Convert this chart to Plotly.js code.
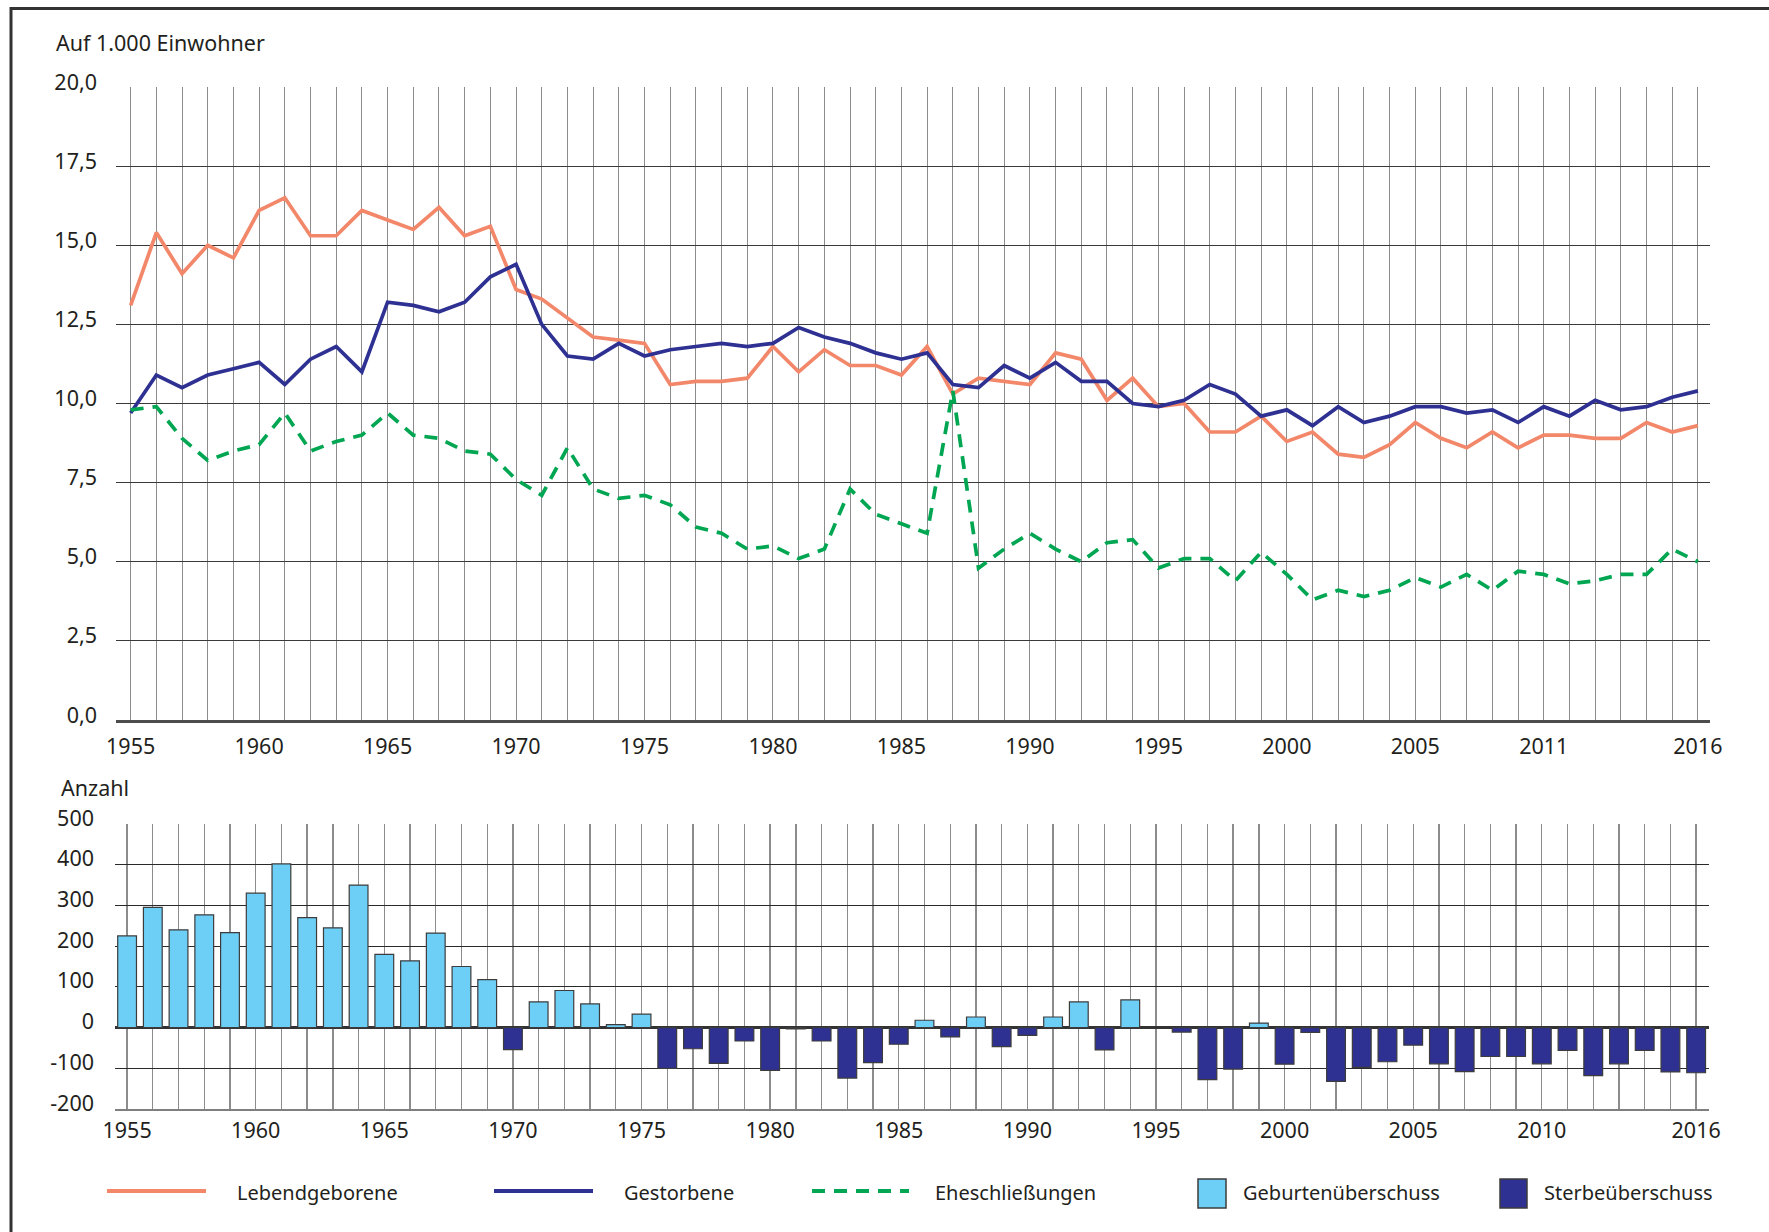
<!DOCTYPE html>
<html>
<head>
<meta charset="utf-8">
<script src="https://cdn.plot.ly/plotly-3.0.1.min.js"></script>
<style>html,body{margin:0;padding:0;background:#fff;}#chart{width:1769px;height:1232px;}</style>
</head>
<body>
<div id="chart"></div>
<script>
// ---- Data ----
const years = [1955,1956,1957,1958,1959,1960,1961,1962,1963,1964,
  1965,1966,1967,1968,1969,1970,1971,1972,1973,1974,
  1975,1976,1977,1978,1979,1980,1981,1982,1983,1984,
  1985,1986,1987,1988,1989,1990,1991,1992,1993,1994,
  1995,1996,1997,1998,1999,2000,2001,2002,2003,2004,
  2005,2006,2007,2008,2009,2010,2011,2012,2013,2014,
  2015,2016];

const lebendgeborene = [13.1,15.4,14.1,15.0,14.6,16.1,16.5,15.3,15.3,16.1,
  15.8,15.5,16.2,15.3,15.6,13.6,13.3,12.7,12.1,12.0,
  11.9,10.6,10.7,10.7,10.8,11.8,11.0,11.7,11.2,11.2,
  10.9,11.8,10.3,10.8,10.7,10.6,11.6,11.4,10.1,10.8,
  9.9,10.0,9.1,9.1,9.6,8.8,9.1,8.4,8.3,8.7,
  9.4,8.9,8.6,9.1,8.6,9.0,9.0,8.9,8.9,9.4,
  9.1,9.3];

const gestorbene = [9.7,10.9,10.5,10.9,11.1,11.3,10.6,11.4,11.8,11.0,
  13.2,13.1,12.9,13.2,14.0,14.4,12.5,11.5,11.4,11.9,
  11.5,11.7,11.8,11.9,11.8,11.9,12.4,12.1,11.9,11.6,
  11.4,11.6,10.6,10.5,11.2,10.8,11.3,10.7,10.7,10.0,
  9.9,10.1,10.6,10.3,9.6,9.8,9.3,9.9,9.4,9.6,
  9.9,9.9,9.7,9.8,9.4,9.9,9.6,10.1,9.8,9.9,
  10.2,10.4];

const eheschliessungen = [9.8,9.9,8.9,8.2,8.5,8.7,9.7,8.5,8.8,9.0,
  9.7,9.0,8.9,8.5,8.4,7.6,7.1,8.6,7.3,7.0,
  7.1,6.8,6.1,5.9,5.4,5.5,5.1,5.4,7.3,6.5,
  6.2,5.9,10.4,4.8,5.4,5.9,5.4,5.0,5.6,5.7,
  4.8,5.1,5.1,4.4,5.3,4.6,3.8,4.1,3.9,4.1,
  4.5,4.2,4.6,4.1,4.7,4.6,4.3,4.4,4.6,4.6,
  5.4,5.0];

// natural balance (Anzahl): positive = Geburtenüberschuss, negative = Sterbeüberschuss
const saldo = [225,295,240,277,233,330,402,270,245,350,
  180,164,232,150,118,-54,63,91,58,7,
  33,-100,-52,-88,-33,-105,-3,-33,-124,-86,
  -41,18,-23,26,-47,-19,26,63,-55,68,
  0,-11,-128,-102,11,-90,-12,-132,-98,-84,
  -43,-89,-108,-71,-71,-89,-56,-118,-89,-56,
  -109,-111];

const topTickVals = [1955,1960,1965,1970,1975,1980,1985,1990,1995,2000,2005,2010,2016];
const topTickText = ['1955','1960','1965','1970','1975','1980','1985','1990','1995','2000','2005','2011','2016'];
const bottomTickText = ['1955','1960','1965','1970','1975','1980','1985','1990','1995','2000','2005','2010','2016'];
const topYTicks = [0,2.5,5,7.5,10,12.5,15,17.5,20];
const topYText = ['0,0','2,5','5,0','7,5','10,0','12,5','15,0','17,5','20,0'];
const bottomYTicks = [-200,-100,0,100,200,300,400,500];
const bottomYText = ['-200','-100','0','100','200','300','400','500'];

const seriesNames = ['Lebendgeborene','Gestorbene','Eheschließungen','Geburtenüberschuss','Sterbeüberschuss'];

// ---- Styles ----
const C_BIRTH = '#F2876A', C_DEATH = '#2E3192', C_MARR = '#00A651', C_POS = '#6DCFF6', C_NEG = '#2E3192';
const W = 1769, H = 1232;
const px = x => x / W, py = y => 1 - y / H;

const geb = saldo.map(v => v > 0 ? v : null);
const ster = saldo.map(v => v < 0 ? v : null);

const traces = [
  {x: years, y: lebendgeborene, type:'scatter', mode:'lines', name: seriesNames[0],
   line:{color:C_BIRTH, width:3.7}, xaxis:'x', yaxis:'y'},
  {x: years, y: gestorbene, type:'scatter', mode:'lines', name: seriesNames[1],
   line:{color:C_DEATH, width:3.7}, xaxis:'x', yaxis:'y'},
  {x: years, y: eheschliessungen, type:'scatter', mode:'lines', name: seriesNames[2],
   line:{color:C_MARR, width:3.7, dash:'13px,9px'}, xaxis:'x', yaxis:'y'},
  {x: years, y: geb, type:'bar', name: seriesNames[3], width:0.73,
   marker:{color:C_POS, line:{color:'#3c3c3c', width:1.2}}, xaxis:'x2', yaxis:'y2'},
  {x: years, y: ster, type:'bar', name: seriesNames[4], width:0.73,
   marker:{color:C_NEG, line:{color:'#3c3c3c', width:1.2}}, xaxis:'x2', yaxis:'y2'}
];

const font = {family:'Noto Sans, Open Sans, sans-serif', size:20, color:'#231f20'};
const tfont = {family:'Noto Sans, Open Sans, sans-serif', size:21.5, color:'#231f20'};

const shapes = [
  // outer frame
  {type:'rect', xref:'paper', yref:'paper', x0:px(11), x1:1.02, y0:py(8.5), y1:-0.02,
   line:{color:'#333', width:3}, fillcolor:'rgba(0,0,0,0)'},
  // legend symbols
  {type:'line', xref:'paper', yref:'paper', x0:px(107), x1:px(206), y0:py(1191), y1:py(1191), line:{color:C_BIRTH, width:4}},
  {type:'line', xref:'paper', yref:'paper', x0:px(494), x1:px(593), y0:py(1191), y1:py(1191), line:{color:C_DEATH, width:4}},
  {type:'line', xref:'paper', yref:'paper', x0:px(812), x1:px(909), y0:py(1191), y1:py(1191), line:{color:C_MARR, width:4, dash:'13px,9px'}},
  {type:'rect', xref:'paper', yref:'paper', x0:px(1198), x1:px(1226), y0:py(1179), y1:py(1208), fillcolor:C_POS, line:{color:'#3c3c3c', width:1.5}},
  {type:'rect', xref:'paper', yref:'paper', x0:px(1500), x1:px(1527), y0:py(1179), y1:py(1208), fillcolor:C_NEG, line:{color:'#3c3c3c', width:1.5}}
];

const legendX = [235, 622, 933, 1241, 1542];
const annotations = [
  {text:'Auf 1.000 Einwohner', xref:'paper', yref:'paper', x:px(54), y:py(43), xanchor:'left', yanchor:'middle', showarrow:false, font:tfont},
  {text:'Anzahl', xref:'paper', yref:'paper', x:px(59), y:py(787), xanchor:'left', yanchor:'middle', showarrow:false, font:tfont}
].concat(seriesNames.map((n,i) => ({text:n, xref:'paper', yref:'paper', x:px(legendX[i]), y:py(1192),
  xanchor:'left', yanchor:'middle', showarrow:false, font:font})));

const vgrid = {tickmode:'linear', tick0:1955, dtick:1, showgrid:true, gridcolor:'#8c8c8c', gridwidth:1, ticks:''};

const layout = {
  width: W, height: H,
  margin:{l:0, r:0, t:0, b:0, pad:0},
  paper_bgcolor:'#fff', plot_bgcolor:'rgba(0,0,0,0)',
  font: font,
  showlegend:false,
  barmode:'overlay',
  xaxis:{domain:[px(116), px(1710)], range:[1954.43, 2016.47], tickmode:'array', tickvals:topTickVals, ticktext:topTickText,
    showgrid:true, gridcolor:'#8c8c8c', gridwidth:1, minor:vgrid, zeroline:false,
    showline:true, linecolor:'#4d4d4d', linewidth:3, ticks:'', ticklabelstandoff:5, tickfont:tfont, anchor:'y'},
  yaxis:{domain:[py(720), py(87)], range:[0,20], tickmode:'array', tickvals:topYTicks, ticktext:topYText,
    showgrid:true, gridcolor:'#3a3a3a', gridwidth:1, zeroline:false, showline:false, ticks:'',
    ticklabelstandoff:18, ticklabelshift:-5, tickfont:tfont, anchor:'x'},
  xaxis2:{domain:[px(115), px(1709)], range:[1954.53, 2016.5], tickmode:'array', tickvals:topTickVals, ticktext:bottomTickText,
    showgrid:true, gridcolor:'#8c8c8c', gridwidth:1.3, minor:Object.assign({}, vgrid, {gridwidth:1.3}), zeroline:false,
    showline:true, linecolor:'#7f7f7f', linewidth:2, ticks:'', ticklabelstandoff:1, tickfont:tfont, anchor:'y2'},
  yaxis2:{domain:[py(1109), py(824)], range:[-200,500], tickmode:'array', tickvals:bottomYTicks, ticktext:bottomYText,
    showgrid:true, gridcolor:'#2a2a2a', gridwidth:1.2, zeroline:true, zerolinecolor:'#333', zerolinewidth:3,
    showline:false, ticks:'', ticklabelstandoff:20, ticklabelshift:-6, tickfont:tfont, anchor:'x2'},
  shapes: shapes,
  annotations: annotations
};

Plotly.newPlot('chart', traces, layout, {staticPlot:true, displayModeBar:false});
</script>
</body>
</html>
